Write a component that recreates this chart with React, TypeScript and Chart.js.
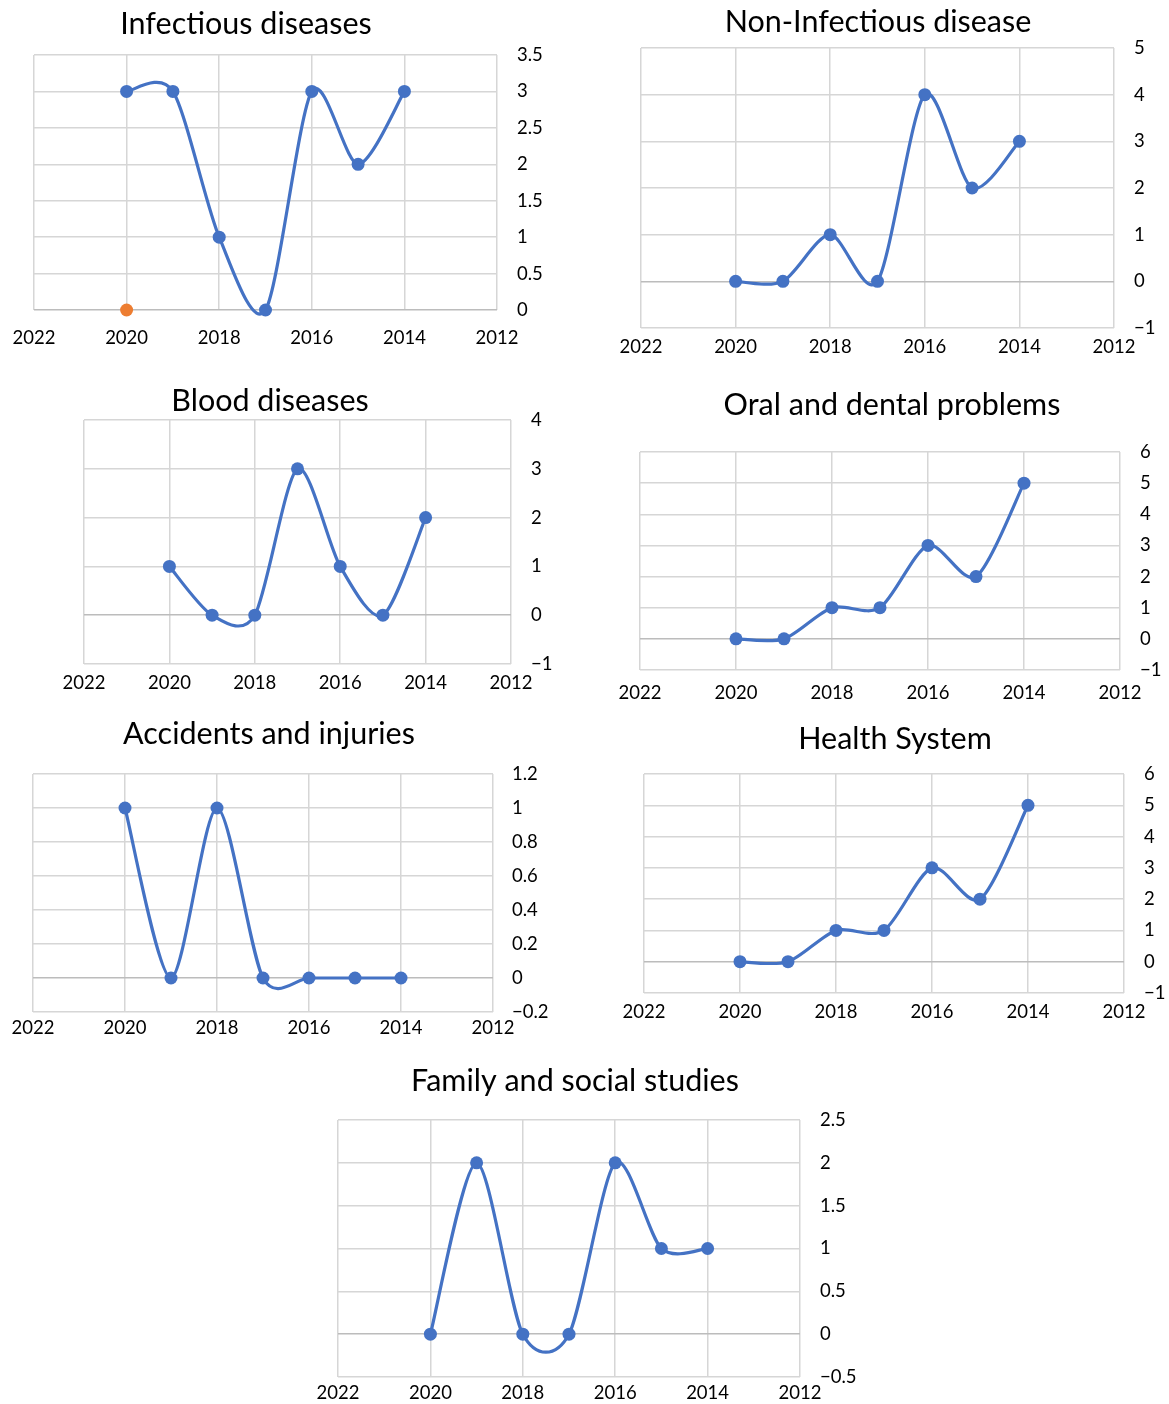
import React, { useEffect, useRef } from "react";
import { Chart, registerables } from "chart.js";

Chart.register(...registerables);

// ---------------- data ----------------
const years = [2020, 2019, 2018, 2017, 2016, 2015, 2014];
const xTicks = [2022, 2020, 2018, 2016, 2014, 2012];

const infectiousValues = [3, 3, 1, 0, 3, 2, 3];
const infectiousExtraYears = [2020];
const infectiousExtraValues = [0];
const nonInfectiousValues = [0, 0, 1, 0, 4, 2, 3];
const bloodValues = [1, 0, 0, 3, 1, 0, 2];
const oralValues = [0, 0, 1, 1, 3, 2, 5];
const accidentsValues = [1, 0, 1, 0, 0, 0, 0];
const healthSystemValues = [0, 0, 1, 1, 3, 2, 5];
const familyValues = [0, 2, 0, 0, 2, 1, 1];

const infectiousYTicks = [0, 0.5, 1, 1.5, 2, 2.5, 3, 3.5];
const nonInfectiousYTicks = [-1, 0, 1, 2, 3, 4, 5];
const bloodYTicks = [-1, 0, 1, 2, 3, 4];
const oralYTicks = [-1, 0, 1, 2, 3, 4, 5, 6];
const accidentsYTicks = [-0.2, 0, 0.2, 0.4, 0.6, 0.8, 1, 1.2];
const healthSystemYTicks = [-1, 0, 1, 2, 3, 4, 5, 6];
const familyYTicks = [-0.5, 0, 0.5, 1, 1.5, 2, 2.5];

// ---------------- styles / layout ----------------
const FONT = "Lato, 'Open Sans', sans-serif";
const TITLE_SIZE = 30.5;
const TICK_SIZE = 18.5;
const BLUE = "#4472C4";
const ORANGE = "#ED7D31";
const GRID = "#d6d6d6";
const ZERO = "#bcbcbc";
const Y_W = 70;
const X_H = 50;
const SMOOTH_K = 0.14; // Excel-like smoothing factor (Catmull-Rom style)

type Box = { L: number; T: number; R: number; B: number; ty: number; tc: number; xo: number; yp: number };

type Spec = {
  title: string;
  values: number[];
  yTicks: number[];
  extraYears?: number[];
  extraValues?: number[];
  box: Box;
};

const specs: Spec[] = [
  { title: "Infectious diseases", values: infectiousValues, yTicks: infectiousYTicks, extraYears: infectiousExtraYears, extraValues: infectiousExtraValues,
    box: { L: 34, T: 55, R: 497, B: 310, ty: 24, tc: 246, xo: 28, yp: 20 } },
  { title: "Non-Infectious disease", values: nonInfectiousValues, yTicks: nonInfectiousYTicks,
    box: { L: 641, T: 48, R: 1114, B: 328, ty: 22, tc: 878, xo: 19, yp: 20 } },
  { title: "Blood diseases", values: bloodValues, yTicks: bloodYTicks,
    box: { L: 84, T: 420, R: 511, B: 664, ty: 401, tc: 270, xo: 19, yp: 20 } },
  { title: "Oral and dental problems", values: oralValues, yTicks: oralYTicks,
    box: { L: 640, T: 452, R: 1120, B: 670, ty: 405, tc: 892, xo: 23, yp: 20 } },
  { title: "Accidents and injuries", values: accidentsValues, yTicks: accidentsYTicks,
    box: { L: 33, T: 774, R: 493, B: 1012, ty: 734, tc: 269, xo: 16, yp: 19 } },
  { title: "Health System", values: healthSystemValues, yTicks: healthSystemYTicks,
    box: { L: 644, T: 774, R: 1124, B: 993, ty: 739, tc: 895, xo: 19, yp: 20 } },
  { title: "Family and social studies", values: familyValues, yTicks: familyYTicks,
    box: { L: 338, T: 1120, R: 800, B: 1377, ty: 1081, tc: 575, xo: 16, yp: 20 } },
];

const fmt = (v: number) => {
  const r = Math.round(v * 100) / 100;
  return (r < 0 ? "\u2212" : "") + String(Math.abs(r));
};

// Replaces Chart.js' distance-weighted control points with uniform Catmull-Rom ones (Excel "smoothed line" look)
const excelSmooth = {
  id: "excelSmooth",
  beforeDatasetsDraw(chart: any) {
    chart.data.datasets.forEach((ds: any, di: number) => {
      if (ds.showLine === false) return;
      const meta = chart.getDatasetMeta(di);
      const pts = meta.data as any[];
      const n = pts.length;
      for (let i = 0; i < n; i++) {
        const p = pts[i];
        const prev = pts[Math.max(0, i - 1)];
        const next = pts[Math.min(n - 1, i + 1)];
        const tx = (next.x - prev.x) * SMOOTH_K;
        const tyy = (next.y - prev.y) * SMOOTH_K;
        p.cp1x = p.x - tx;
        p.cp1y = p.y - tyy;
        p.cp2x = p.x + tx;
        p.cp2y = p.y + tyy;
      }
      if (meta.dataset) {
        meta.dataset._pointsUpdated = true;
        meta.dataset._path = undefined;
      }
    });
  },
};

function MiniChart({ spec }: { spec: Spec }) {
  const ref = useRef<HTMLCanvasElement | null>(null);
  const { L, T, R, B, ty, tc, xo, yp } = spec.box;
  const padLeft = L + R + Y_W - 2 * tc; // dummy left axis width, centres the title
  const canvasLeft = L - padLeft;
  const canvasTop = Math.round(ty - 0.6 * TITLE_SIZE);
  const titleBottomPad = T - canvasTop - 1.2 * TITLE_SIZE;
  const width = padLeft + (R - L) + Y_W;
  const height = T - canvasTop + (B - T) + X_H;

  useEffect(() => {
    const canvas = ref.current;
    if (!canvas) return;
    const datasets: any[] = [
      {
        data: years.map((x, i) => ({ x, y: spec.values[i] })),
        borderColor: BLUE,
        backgroundColor: BLUE,
        borderWidth: 3.2,
        pointRadius: 6.5,
        pointBorderWidth: 0,
        pointBackgroundColor: BLUE,
        tension: 0.4,
        clip: false,
        yAxisID: "y",
        xAxisID: "x",
      },
    ];
    if (spec.extraYears && spec.extraValues) {
      datasets.push({
        data: spec.extraYears.map((x, i) => ({ x, y: spec.extraValues![i] })),
        showLine: false,
        pointRadius: 6.5,
        pointBorderWidth: 0,
        pointBackgroundColor: ORANGE,
        backgroundColor: ORANGE,
        borderColor: ORANGE,
        clip: false,
        yAxisID: "y",
        xAxisID: "x",
      });
    }
    const yMin = spec.yTicks[0];
    const yMax = spec.yTicks[spec.yTicks.length - 1];
    const chart = new Chart(canvas, {
      type: "line",
      data: { datasets },
      plugins: [excelSmooth],
      options: {
        responsive: false,
        animation: false,
        devicePixelRatio: 1,
        layout: { padding: 0 },
        elements: { line: { capBezierPoints: false } },
        plugins: {
          legend: { display: false },
          tooltip: { enabled: false },
          title: {
            display: true,
            text: spec.title,
            color: "#000",
            font: { family: FONT, size: TITLE_SIZE, weight: "normal", lineHeight: 1.2 },
            padding: { top: 0, bottom: titleBottomPad },
          },
        },
        scales: {
          pad: {
            type: "linear",
            position: "left",
            display: true,
            grid: { display: false },
            border: { display: false },
            ticks: { display: false },
            afterFit: (s: any) => {
              s.width = padLeft;
            },
          },
          x: {
            type: "linear",
            position: "bottom",
            reverse: true,
            min: xTicks[xTicks.length - 1],
            max: xTicks[0],
            afterBuildTicks: (s: any) => {
              s.ticks = xTicks.map((v) => ({ value: v }));
            },
            grid: { color: GRID, lineWidth: 1.5, drawTicks: false },
            border: { display: false },
            ticks: {
              color: "#000",
              font: { family: FONT, size: TICK_SIZE },
              padding: xo - (1.2 * TICK_SIZE) / 2,
              maxRotation: 0,
              autoSkip: false,
              callback: (v: any) => String(v),
            },
            afterFit: (s: any) => {
              s.height = X_H;
            },
          },
          y: {
            type: "linear",
            position: "right",
            min: yMin,
            max: yMax,
            afterBuildTicks: (s: any) => {
              s.ticks = spec.yTicks.map((v) => ({ value: v }));
            },
            grid: {
              color: (ctx: any) => (ctx.tick && Math.abs(ctx.tick.value) < 1e-9 ? ZERO : GRID),
              lineWidth: 1.5,
              drawTicks: false,
            },
            border: { display: false },
            ticks: {
              color: "#000",
              font: { family: FONT, size: TICK_SIZE },
              padding: yp,
              autoSkip: false,
              callback: (v: any) => fmt(Number(v)),
            },
            afterFit: (s: any) => {
              s.width = Y_W;
            },
          },
        },
      } as any,
    });
    return () => chart.destroy();
  }, []);

  return (
    <canvas
      ref={ref}
      width={width}
      height={height}
      style={{ position: "absolute", left: canvasLeft, top: canvasTop, width, height }}
    />
  );
}

export default function App() {
  return (
    <div
      style={{
        position: "absolute",
        left: 0,
        top: 0,
        width: 1169,
        height: 1404,
        overflow: "hidden",
        background: "#fff",
      }}
    >
      {specs.map((s) => (
        <MiniChart key={s.title} spec={s} />
      ))}
    </div>
  );
}
